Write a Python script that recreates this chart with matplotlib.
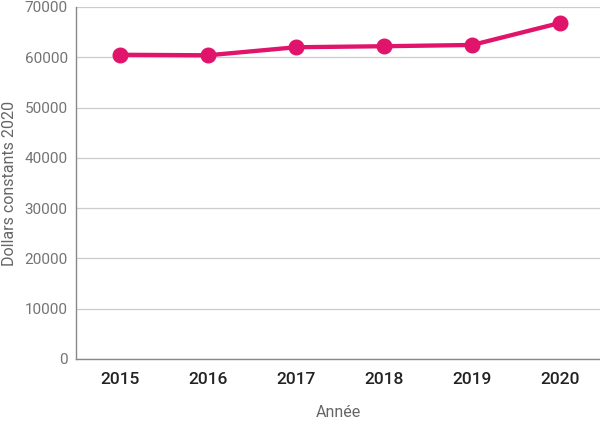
import matplotlib
matplotlib.use("Agg")
import matplotlib.pyplot as plt

years = ["2015", "2016", "2017", "2018", "2019", "2020"]
values = [60500, 60400, 62000, 62200, 62450, 66850]
yticks = [0, 10000, 20000, 30000, 40000, 50000, 60000, 70000]

color = "#E0146A"

fig = plt.figure(figsize=(6, 4.21), dpi=100)
ax = fig.add_axes([76/600, 62/421, 1 - 76/600, 352/421])

x = list(range(len(years)))
ax.plot(x, values, color=color, lw=3.1, marker="o", ms=10.5, zorder=3, solid_capstyle="round")

ax.set_xlim(-0.5, 5.45)
ax.set_ylim(0, 70000)
ax.set_yticks(yticks)
ax.set_yticklabels([str(v) for v in yticks], fontfamily="Roboto", fontweight="normal",
                   fontsize=11, color="#747474")
ax.set_xticks(x)
ax.set_xticklabels(years, fontfamily="Roboto", fontweight="medium", fontsize=12.5, color="#222222")
ax.tick_params(axis="y", length=0, pad=6)
ax.tick_params(axis="x", length=0, pad=9)

ax.grid(axis="y", color="#cccccc", lw=0.9)
ax.set_axisbelow(True)
for s in ["top", "right"]:
    ax.spines[s].set_visible(False)
ax.spines["left"].set_color("#888888")
ax.spines["bottom"].set_color("#888888")
ax.spines["left"].set_linewidth(1.0)
ax.spines["bottom"].set_linewidth(1.0)

ax.set_xlabel("Année", fontfamily="Roboto", fontweight="normal", fontsize=11.5, color="#666666", labelpad=13)
ax.set_ylabel("Dollars constants 2020", fontfamily="Roboto", fontweight="normal", fontsize=11.5,
              color="#666666", labelpad=5)

fig.savefig("out.png", dpi=100)
